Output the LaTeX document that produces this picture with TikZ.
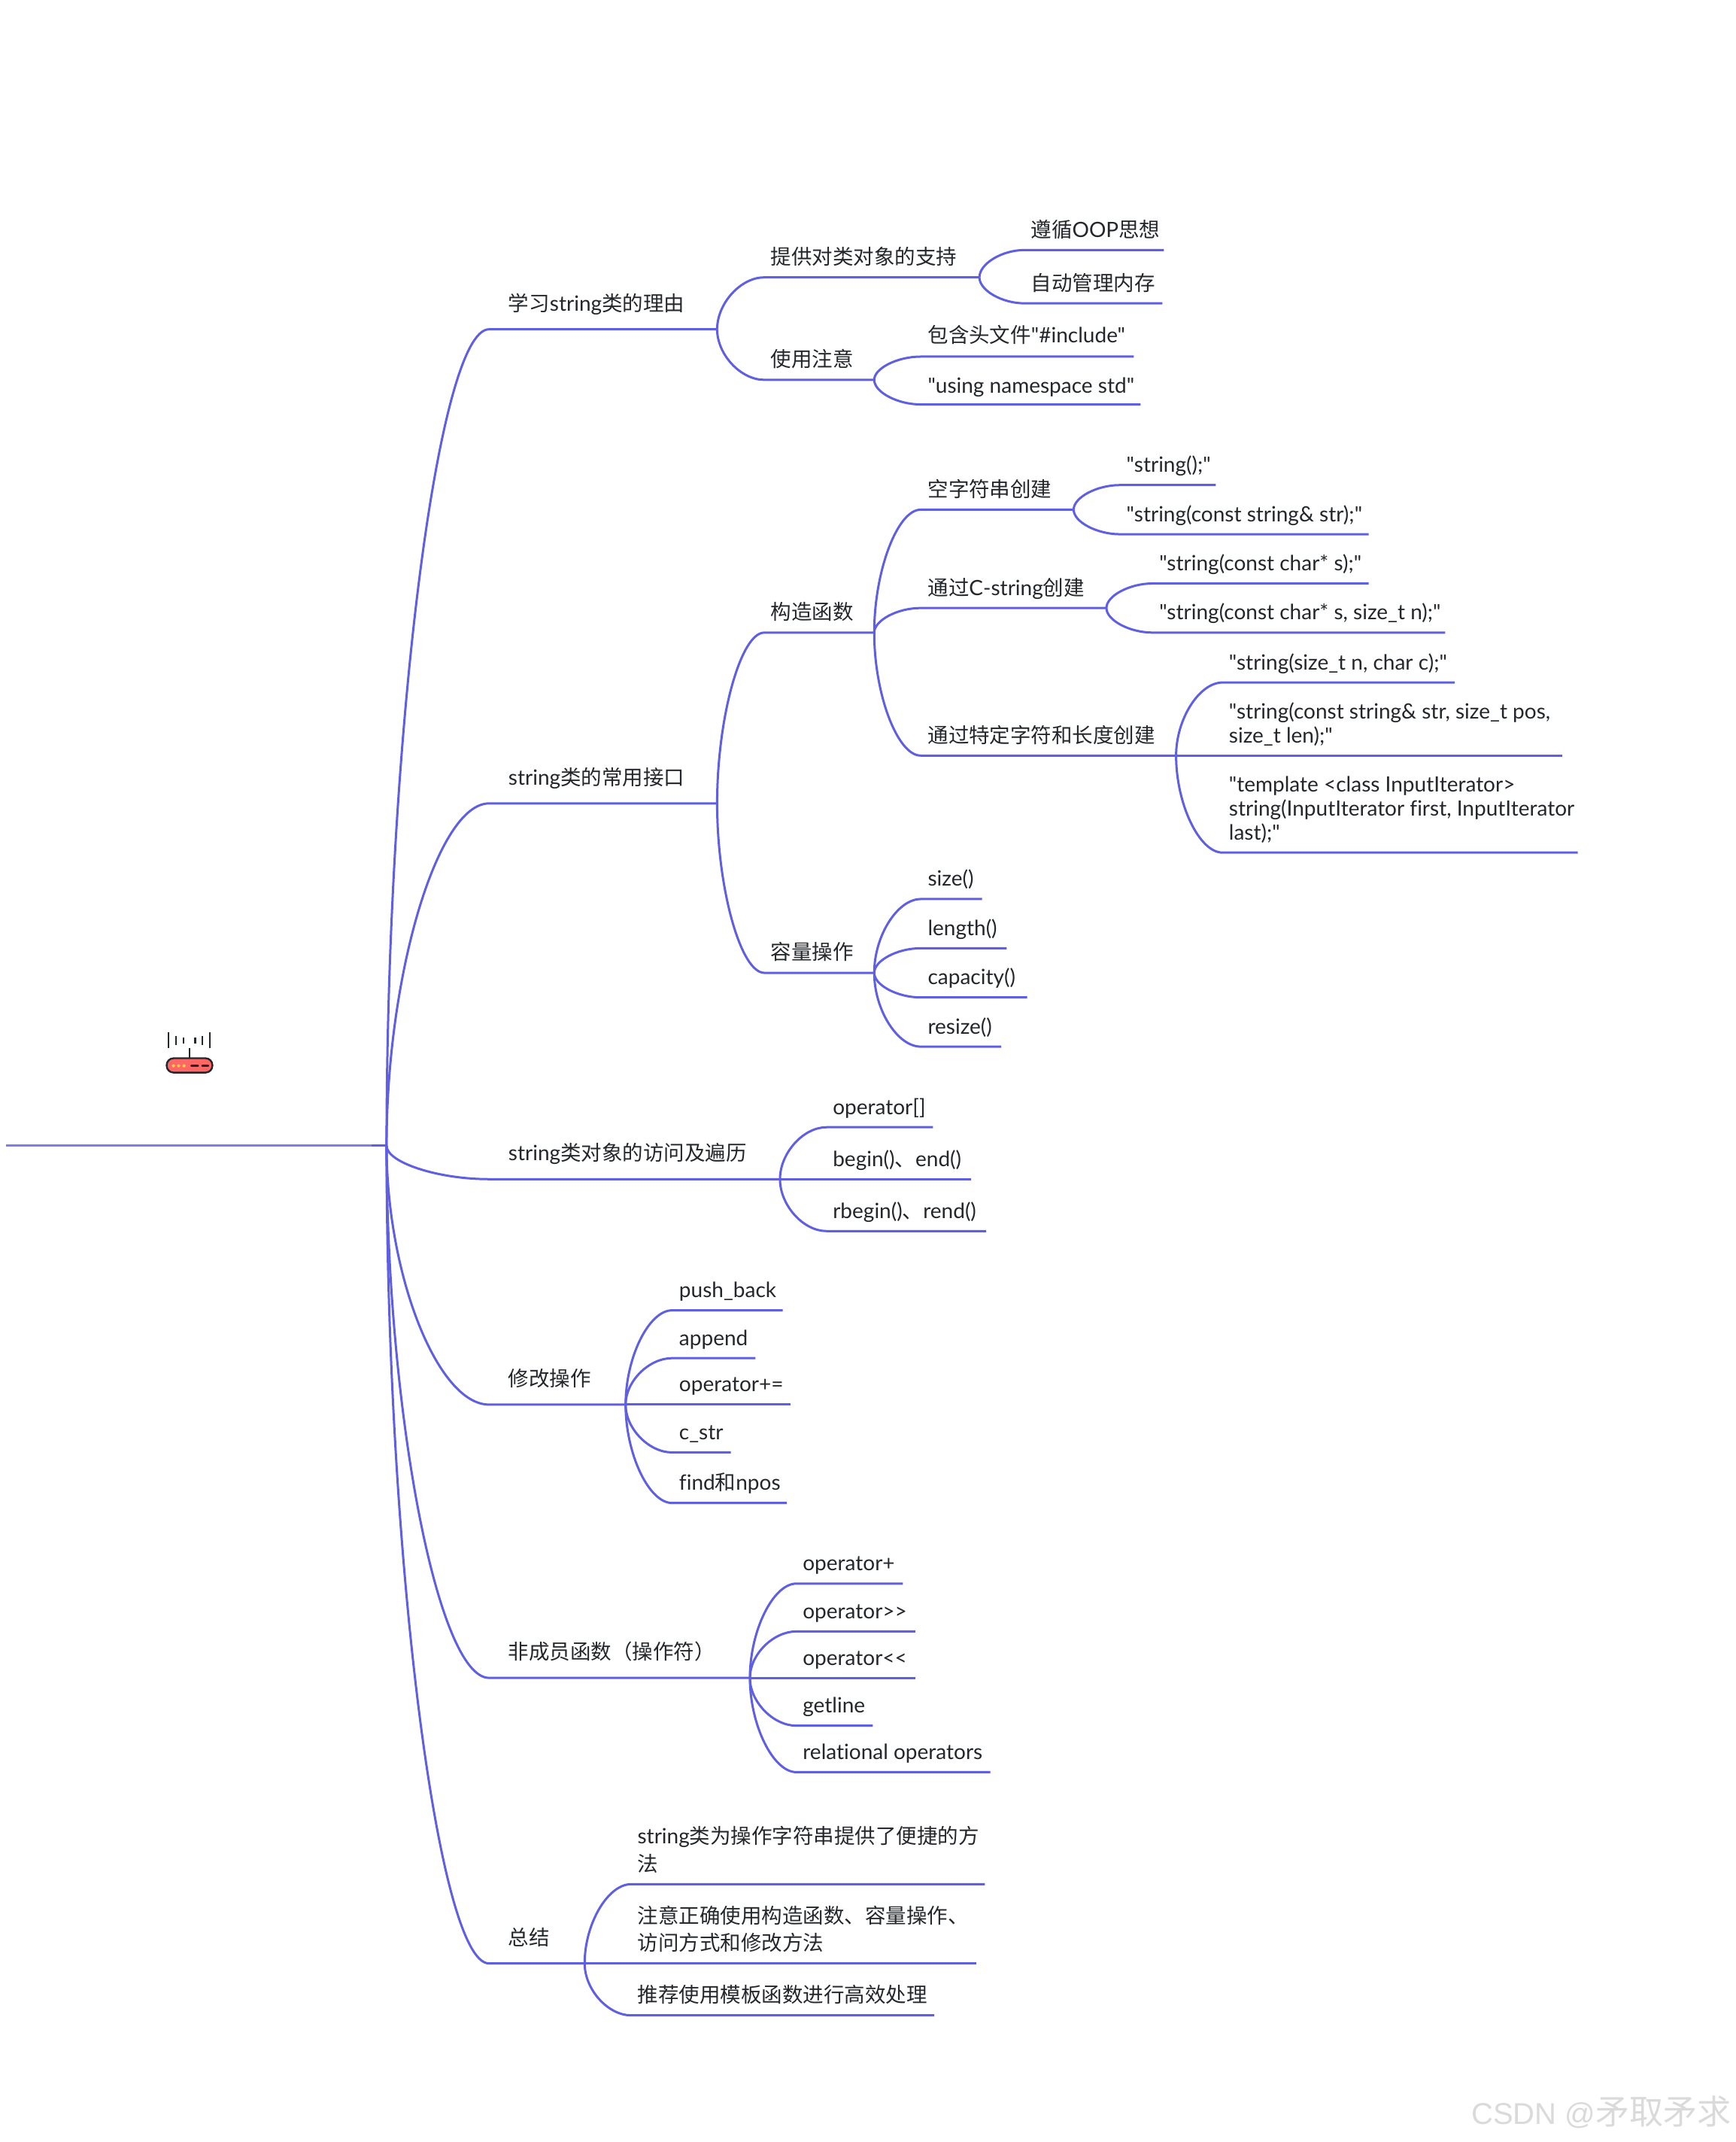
\documentclass[tikz,border=0pt]{standalone}
\usepackage{fontspec}
\newfontfamily\latf[Ligatures=NoCommon]{Lato}
\newfontfamily\wmf{Liberation Sans}
\newfontfamily\cjkf[Scale=0.982]{Noto Sans CJK SC}
\usetikzlibrary{calc}
\definecolor{linkc}{HTML}{5F5FE3}
\definecolor{rootc}{HTML}{7E7EEA}
\definecolor{inkc}{HTML}{23262B}
\definecolor{wmc}{HTML}{DADADA}
\definecolor{bodyc}{HTML}{FF6666}
\definecolor{dotc}{HTML}{FFD23F}
\newcommand{\zh}[1]{{\cjkf #1}}
\newcommand{\lat}{\latf\fontsize{14}{16}\selectfont}
% [node options], name, parent, line start x, line end x, y, text x, text
\newcommand{\topic}[8][]{%
  \coordinate (#2-s) at (#4,#6);
  \coordinate (#2-e) at (#5,#6);
  \node[lab,#1] (#2) at (#7,#6-9.4) {#8};
  \draw[link] let \p1=(#3-e), \p2=(#2-s) in
    (\p1) .. controls (\x1,{\y1+0.5*(\y2-\y1)}) and ({\x1+0.5*(\x2-\x1)},\y2) .. (\p2) -- (#2-e);
}
\newcommand{\mltwo}[2]{\vbox{\baselineskip=17.5\dimexpr0.908pt\relax\lineskiplimit=-100pt\hbox{#1}\hbox{#2}}}
\newcommand{\mlthree}[3]{\vbox{\baselineskip=17.5\dimexpr0.908pt\relax\lineskiplimit=-100pt\hbox{#1}\hbox{#2}\hbox{#3}}}
\newcommand{\mlzh}[2]{\vbox{\baselineskip=20\dimexpr0.908pt\relax\lineskiplimit=-100pt\hbox{#1}\hbox{#2}}}
\tikzset{
  link/.style={draw=linkc,line width=1.5pt},
  lab/.style={anchor=base west,inner sep=0pt,text=inkc,font=\lat},
  top/.style={yshift=3.6pt},
  iconline/.style={draw=inkc,line width=1.2pt},
}
\begin{document}
\begin{tikzpicture}[x=0.908pt,y=-0.908pt]
\useasboundingbox (0,0) rectangle (1270.9,1567.7);
% root
\coordinate (root-s) at (4.5,838.5);
\coordinate (root-m) at (272,838.5);
\coordinate (root-e) at (283,838.5);
\draw[draw=rootc,line width=1.5pt] (root-s) -- (root-m);
\draw[link] (root-m) -- (root-e);
% icon
\draw[iconline,fill=bodyc,rounded corners=4.6pt] (122,774.5) rectangle (155.5,785);
\draw[iconline] (138.8,767) -- (138.8,774.5);
\foreach \xx/\ya/\yb in {123.5/755.5/767,128.7/758/765,134.3/759.5/764,142.8/759.5/764,148/758/765,153.5/755.5/767}
  \draw[iconline] (\xx,\ya) -- (\xx,\yb);
\foreach \xx in {127,130.8,134.7}
  \fill[dotc] (\xx,780) circle (1.05pt);
\draw[iconline,line cap=round] (140,780) -- (145,780);
\draw[iconline,line cap=round] (148,780) -- (152.5,780);

% level 1
\topic[top]{a}{root}{358}{525}{241}{372}{\zh{学习}string\zh{类的理由}}
\topic[top]{b}{root}{358}{525}{588}{372}{string\zh{类的常用接口}}
\topic[top]{c}{root}{358}{571}{863}{372}{string\zh{类对象的访问及遍历}}
\topic[top]{d}{root}{358}{458}{1028}{372}{\zh{修改操作}}
\topic[top]{e}{root}{358}{549}{1228}{372}{\zh{非成员函数（操作符）}}
\topic[top]{f}{root}{358}{428}{1437}{372}{\zh{总结}}
% a
\topic{a1}{a}{559.5}{717}{203}{564}{\zh{提供对类对象的支持}}
\topic{a2}{a}{559.5}{640}{278}{564}{\zh{使用注意}}
\topic{a11}{a1}{750}{852}{183}{754.5}{\zh{遵循}OOP\zh{思想}}
\topic{a12}{a1}{750}{851}{222}{754.5}{\zh{自动管理内存}}
\topic[yshift=0.5pt]{a21}{a2}{674}{830}{261}{679}{\zh{包含头文件}"\#include"}
\topic[yshift=-0.8pt]{a22}{a2}{674}{835}{296}{679}{"using namespace std"}
% b
\topic{b1}{b}{559.5}{640}{463}{564}{\zh{构造函数}}
\topic{b2}{b}{559.5}{640}{712}{564}{\zh{容量操作}}
\topic{b11}{b1}{674}{786}{373}{679}{\zh{空字符串创建}}
\topic{b12}{b1}{674}{810}{445}{679}{\zh{通过}C-string\zh{创建}}
\topic{b13}{b1}{674}{861}{553}{679}{\zh{通过特定字符和长度创建}}
\topic{b111}{b11}{820}{890}{355}{824.5}{"string();"}
\topic{b112}{b11}{820}{1002}{391}{824.5}{"string(const string\& str);"}
\topic{b121}{b12}{844}{1002}{427}{848.5}{"string(const char* s);"}
\topic{b122}{b12}{844}{1058}{463}{848.5}{"string(const char* s, size\_t n);"}
\topic{b131}{b13}{895}{1065}{499.5}{899.5}{"string(size\_t n, char c);"}
\topic{b132}{b13}{895}{1143.5}{553}{899.5}{\mltwo{"string(const string\& str, size\_t pos,}{size\_t len);"}}
\topic{b133}{b13}{895}{1155}{624}{899.5}{\mlthree{"template <class InputIterator>}{string(InputIterator first, InputIterator}{last);"}}
\topic{b21}{b2}{674}{719}{658}{679}{size()}
\topic{b22}{b2}{674}{737}{694}{679}{length()}
\topic{b23}{b2}{674}{752}{730}{679}{capacity()}
\topic{b24}{b2}{674}{733}{766}{679}{resize()}
% c
\topic{c1}{c}{605}{683}{825}{609.5}{operator[]}
\topic{c2}{c}{605}{711}{863}{609.5}{begin()\zh{、}end()}
\topic{c3}{c}{605}{722}{901}{609.5}{rbegin()\zh{、}rend()}
% d
\topic{d1}{d}{492}{573}{959}{497}{push\_back}
\topic{d2}{d}{492}{553}{994}{497}{append}
\topic{d3}{d}{492}{579}{1028}{497}{operator+=}
\topic{d4}{d}{492}{535}{1063}{497}{c\_str}
\topic{d5}{d}{492}{576}{1100}{497}{find\zh{和}npos}
% e
\topic{e1}{e}{583}{661}{1159}{587.5}{operator+}
\topic{e2}{e}{583}{670}{1194}{587.5}{operator>>}
\topic{e3}{e}{583}{670}{1228}{587.5}{operator<<}
\topic{e4}{e}{583}{639}{1263}{587.5}{getline}
\topic{e5}{e}{583}{725}{1297}{587.5}{relational operators}
% f
\topic{f1}{f}{462}{721}{1379}{466.5}{\mlzh{string\zh{类为操作字符串提供了便捷的方}}{\zh{法}}}
\topic{f2}{f}{462}{715}{1437}{466.5}{\mlzh{\zh{注意正确使用构造函数、容量操作、}}{\zh{访问方式和修改方法}}}
\topic{f3}{f}{462}{684}{1475}{466.5}{\zh{推荐使用模板函数进行高效处理}}
% watermark
\node[anchor=base west,inner sep=0pt,text=wmc,font=\wmf\fontsize{20}{24}\selectfont] (wm) at (1077,1555) {CSDN @{\cjkf\fontsize{23}{24}\selectfont 矛取矛求}};
\end{tikzpicture}
\end{document}
